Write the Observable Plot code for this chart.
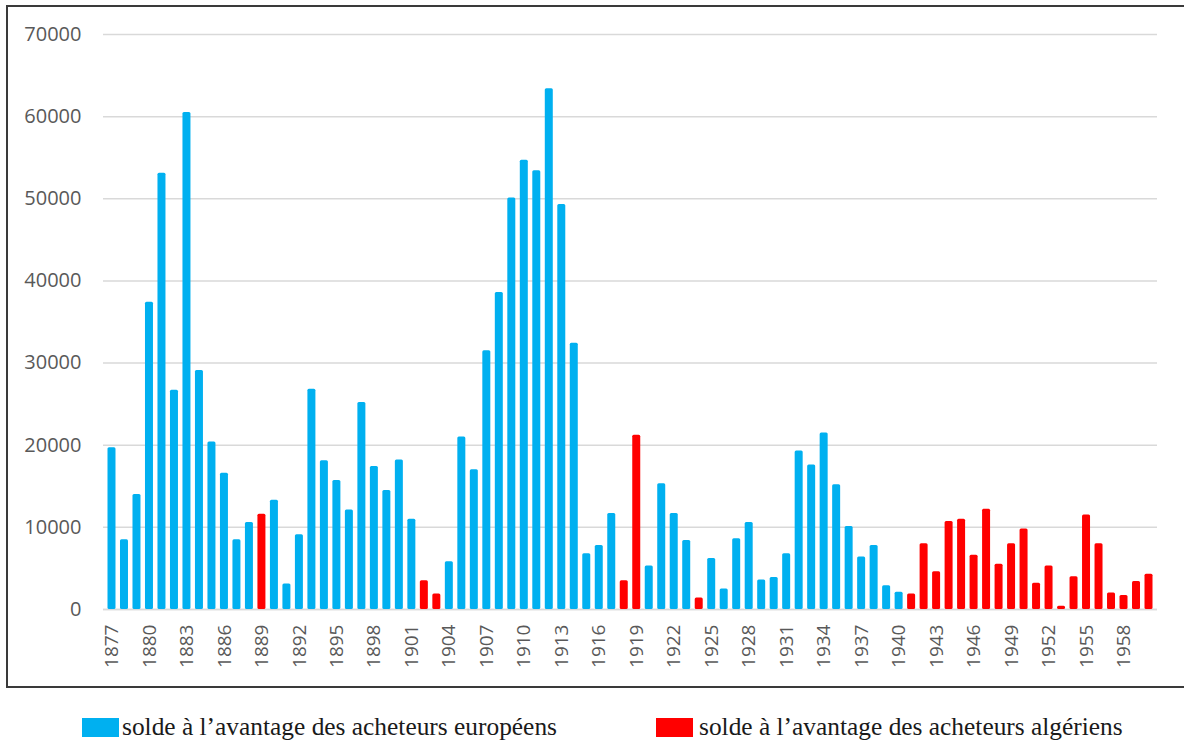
<!DOCTYPE html>
<html>
<head>
<meta charset="utf-8">
<script src="https://cdn.jsdelivr.net/npm/d3@7"></script>
<script src="https://cdn.jsdelivr.net/npm/@observablehq/plot@0.6"></script>
<style>
  html, body { margin: 0; padding: 0; background: #fff; width: 1184px; height: 742px; overflow: hidden; }
  #frame { position: absolute; left: 6px; top: 5px; width: 1250px; height: 683px; border: 2px solid #3a3a3a; border-right: none; box-sizing: border-box; }
  #chart { position: absolute; left: 0; top: 0; }
  .sw { position: absolute; width: 37px; height: 19px; top: 718px; }
  .lt { position: absolute; top: 713px; font-family: "Liberation Serif", "Times New Roman", serif; font-size: 25.4px; line-height: 26px; color: #1a1a1a; white-space: nowrap; }
</style>
</head>
<body>
<div id="frame"></div>
<div id="chart"></div>
<div class="sw" style="left:82px;background:#00B0F0"></div>
<div class="lt" style="left:122px">solde à l’avantage des acheteurs européens</div>
<div class="sw" style="left:656px;background:#FF0000"></div>
<div class="lt" style="left:699px">solde à l’avantage des acheteurs algériens</div>
<script>
const years = [
  1877,1878,1879,1880,1881,1882,1883,1884,1885,1886,1887,1888,1889,1890,1891,1892,1893,1894,1895,1896,
  1897,1898,1899,1900,1901,1902,1903,1904,1905,1906,1907,1908,1909,1910,1911,1912,1913,1914,1915,1916,
  1917,1918,1919,1920,1921,1922,1923,1924,1925,1926,1927,1928,1929,1930,1931,1932,1933,1934,1935,1936,
  1937,1938,1939,1940,1941,1942,1943,1944,1945,1946,1947,1948,1949,1950,1951,1952,1953,1954,1955,1956,
  1957,1958,1959,1960
];
const values = [
  19700,8500,14000,37400,53100,26700,60500,29100,20400,16600,8500,10600,11600,13300,3100,9100,26800,18100,15700,12100,
  25200,17400,14500,18200,11000,3500,1900,5800,21000,17000,31500,38600,50100,54700,53400,63400,49300,32400,6800,7800,
  11700,3500,21200,5300,15300,11700,8400,1400,6200,2500,8600,10600,3600,3900,6800,19300,17600,21500,15200,10100,
  6400,7800,2900,2100,1900,8000,4600,10700,11000,6600,12200,5500,8000,9800,3200,5300,400,4000,11500,8000,
  2000,1700,3400,4300
];
const algerianYears = [1889,1902,1903,1918,1919,1924,1941,1942,1943,1944,1945,1946,1947,1948,1949,1950,
  1951,1952,1953,1954,1955,1956,1957,1958,1959,1960];
const seriesNames = ["solde à l’avantage des acheteurs européens", "solde à l’avantage des acheteurs algériens"];
const seriesColors = ["#00B0F0", "#FF0000"];
const yTicks = [0,10000,20000,30000,40000,50000,60000,70000];
const xTicks = [1877,1880,1883,1886,1889,1892,1895,1898,1901,1904,1907,1910,1913,1916,1919,1922,1925,1928,
  1931,1934,1937,1940,1943,1946,1949,1952,1955,1958];

const data = years.map((y, i) => ({
  year: y,
  value: values[i],
  side: algerianYears.includes(y) ? seriesNames[1] : seriesNames[0]
}));

const chart = Plot.plot({
  width: 1184,
  height: 690,
  marginTop: 34,
  marginBottom: 81,
  marginLeft: 103,
  marginRight: 27,
  style: { fontFamily: "'Open Sans', sans-serif", fontSize: "20px", color: "#595959", background: "transparent" },
  x: { type: "band", domain: years, padding: 0.36, label: null },
  y: { domain: [0, 70000], label: null },
  color: { domain: seriesNames, range: seriesColors },
  marks: [
    Plot.gridY(yTicks, { stroke: "#D9D9D9", strokeOpacity: 1, strokeWidth: 1.5 }),
    Plot.ruleY([0], { stroke: "#D9D9D9", strokeWidth: 1.5 }),
    Plot.barY(data, { x: "year", y: "value", fill: "side", rx: 1.5 }),
    Plot.axisY(yTicks, { tickSize: 0, tickPadding: 22, tickFormat: d => String(d), label: null }),
    Plot.axisX(xTicks, { tickSize: 0, tickPadding: 15, tickRotate: -90, tickFormat: d => String(d), label: null, fontSize: 19 })
  ]
});
document.getElementById("chart").appendChild(chart);
</script>
</body>
</html>
